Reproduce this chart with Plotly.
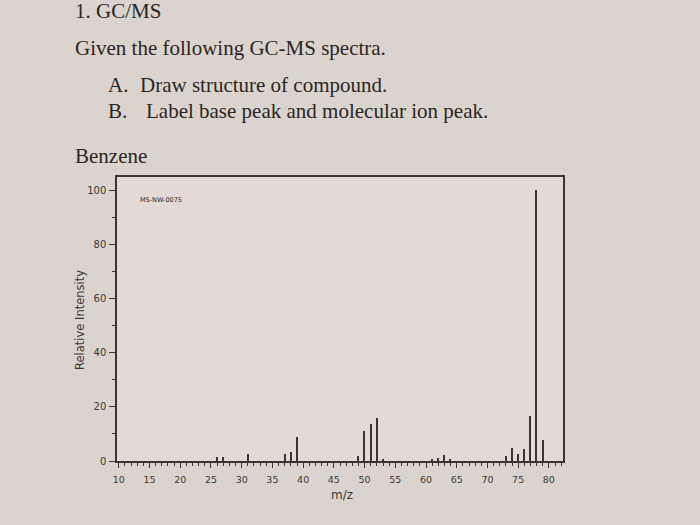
import plotly.graph_objects as go

# ---- data ----
mz = [26, 27, 31, 37, 38, 39, 49, 50, 51, 52, 53, 61, 62, 63, 64, 73, 74, 75, 76, 77, 78, 79]
intensity = [1.5, 1.6, 2.5, 2.5, 3.2, 9.0, 2.0, 11.0, 13.7, 15.9, 0.8, 0.8, 1.2, 2.4, 0.6,
             2.0, 4.8, 2.6, 4.4, 16.5, 100, 7.7]
y_ticks = [0, 20, 40, 60, 80, 100]
x_ticks = list(range(10, 81, 5))

title_num = "1. GC/MS"
question = "Given the following GC-MS spectra."
item_letters = ["A.", "B."]
item_texts = ["Draw structure of compound.", "Label base peak and molecular ion peak."]
compound = "Benzene"
spectrum_id = "MS-NW-0075"

# ---- layout geometry ----
W, H = 700, 525
L, R, T, B = 117, 137, 177, 64
PW, PH = W - L - R, H - T - B


def px(x):
    return (x - L) / PW


def py(y):
    return (H - B - y) / PH


ink = "#2a2623"
line_col = "#3b3633"
serif = "Liberation Serif, Times New Roman, serif"
sans = "DejaVu Sans, Verdana, sans-serif"

fig = go.Figure()
fig.add_trace(go.Bar(x=mz, y=intensity, width=0.22,
                     marker=dict(color=line_col, line=dict(width=0)),
                     showlegend=False))

fig.update_layout(
    width=W, height=H,
    margin=dict(l=L, r=R, t=T, b=B, autoexpand=False),
    paper_bgcolor="#dbd4ce",
    plot_bgcolor="#e3dad6",
    bargap=0,
    xaxis=dict(range=[9.7, 82.3], tickvals=x_ticks, ticks="outside", ticklen=5,
               tickwidth=1.2, tickcolor=line_col, showline=True, linecolor=line_col,
               linewidth=1.5, mirror=True, showgrid=False, zeroline=False,
               minor=dict(dtick=1, tick0=0, ticks="outside", ticklen=3, tickwidth=1.2,
                          tickcolor=line_col, showgrid=False),
               tickfont=dict(family=sans, size=9.5, color="#3a3633"),
               ticklabelstandoff=4, fixedrange=True),
    yaxis=dict(range=[0, 104.8], tickvals=y_ticks, ticks="outside", ticklen=6,
               tickwidth=1.2, tickcolor=line_col, showline=True, linecolor=line_col,
               linewidth=1.5, mirror=True, showgrid=False, zeroline=False,
               minor=dict(dtick=10, tick0=0, ticks="outside", ticklen=3, tickwidth=1.2,
                          tickcolor=line_col, showgrid=False),
               tickfont=dict(family=sans, size=10, color="#3a3633"),
               ticklabelstandoff=1, fixedrange=True),
)

ann = []


def text(x, yb, s, size, family=serif, color=ink, anchor="left"):
    # yb is approximately the text baseline in pixels
    ann.append(dict(x=px(x), y=py(yb - 0.33 * size), xref="paper", yref="paper",
                    text=s, showarrow=False, xanchor=anchor, yanchor="middle",
                    font=dict(family=family, size=size, color=color)))


text(73, 18, title_num, 21)
text(73, 55, question, 21)
text(106, 92, item_letters[0], 21)
text(138, 92, item_texts[0], 21)
text(106, 118, item_letters[1], 21)
text(144, 118, item_texts[1], 21)
text(73, 163, compound, 21)

ann.append(dict(x=px(138), y=py(200), xref="paper", yref="paper", text=spectrum_id,
                showarrow=False, xanchor="left", yanchor="middle",
                font=dict(family=sans, size=6.5, color=ink)))
ann.append(dict(x=px(80), y=py(320), xref="paper", yref="paper", text="Relative Intensity",
                showarrow=False, xanchor="center", yanchor="middle", textangle=-90,
                font=dict(family=sans, size=11.5, color="#3a3633")))
ann.append(dict(x=px(342), y=py(495), xref="paper", yref="paper", text="m/z",
                showarrow=False, xanchor="center", yanchor="middle",
                font=dict(family=sans, size=12, color="#3a3633")))
fig.update_layout(annotations=ann)

fig.write_html("out.html")
